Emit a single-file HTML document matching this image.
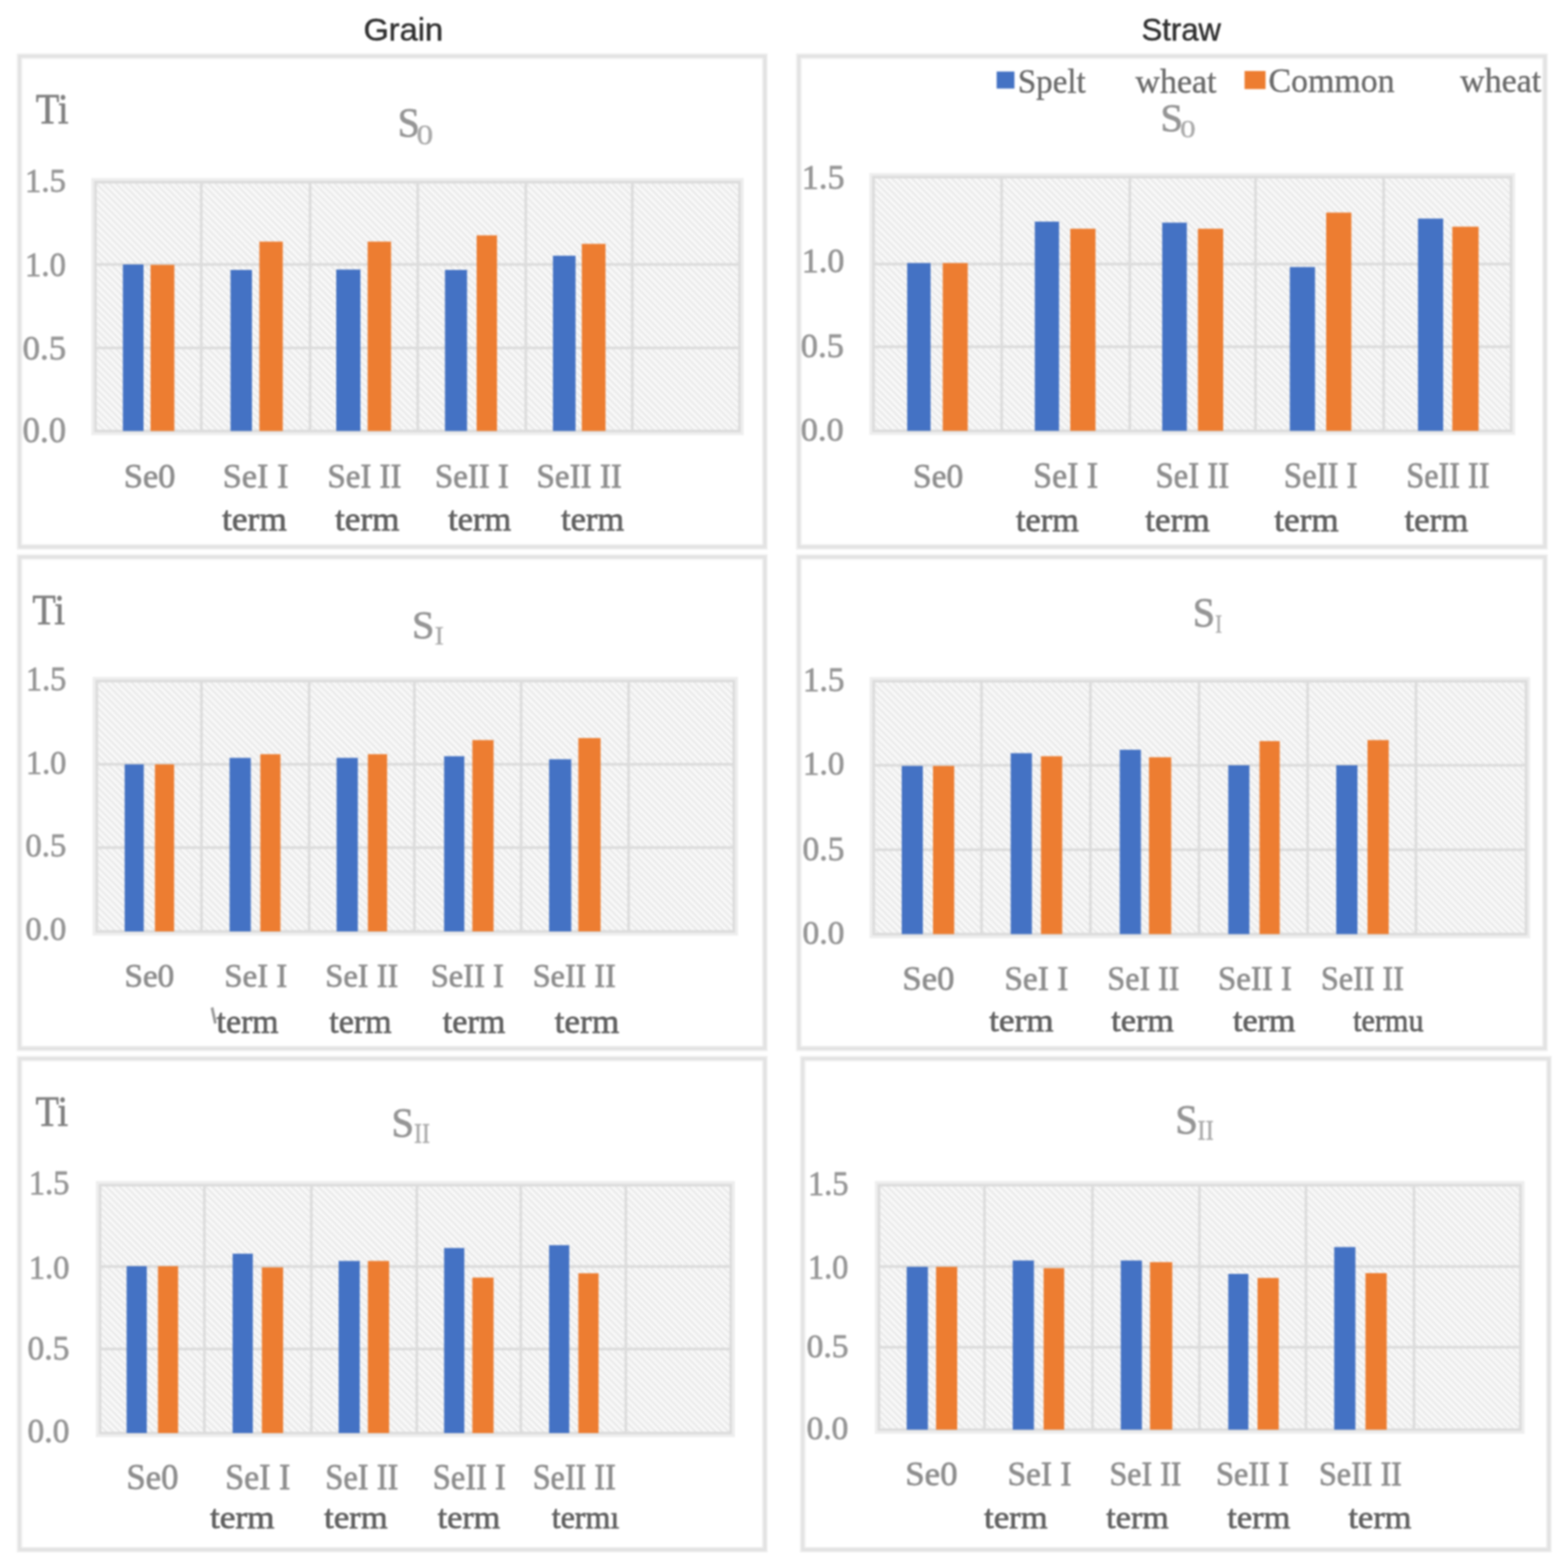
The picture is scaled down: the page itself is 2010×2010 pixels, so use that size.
<!DOCTYPE html>
<html><head><meta charset="utf-8"><title>Ti content - Grain and Straw</title>
<style>
html,body{margin:0;padding:0;background:#fff;}
body>svg{display:block;filter:blur(1px);}
text{stroke-linejoin:round;paint-order:stroke fill;}
</style></head><body>
<svg width="2010" height="2010" viewBox="0 0 2010 2010">
<defs>
<pattern id="hatch" patternUnits="userSpaceOnUse" width="6" height="6" patternTransform="rotate(45)"><rect width="6" height="6" fill="#f9f9f9"/><rect width="6" height="2.4" fill="#e8e8e8"/></pattern>
</defs>
<rect width="2010" height="2010" fill="#fff"/>
<rect x="25.0" y="72.0" width="955.5" height="629.0" fill="none" stroke="#eeeeee" stroke-width="7"/>
<rect x="25.0" y="72.0" width="955.5" height="629.0" fill="none" stroke="#e2e2e2" stroke-width="3.5"/>
<rect x="1024.0" y="72.0" width="956.5" height="629.0" fill="none" stroke="#eeeeee" stroke-width="7"/>
<rect x="1024.0" y="72.0" width="956.5" height="629.0" fill="none" stroke="#e2e2e2" stroke-width="3.5"/>
<rect x="25.0" y="714.0" width="955.5" height="630.0" fill="none" stroke="#eeeeee" stroke-width="7"/>
<rect x="25.0" y="714.0" width="955.5" height="630.0" fill="none" stroke="#e2e2e2" stroke-width="3.5"/>
<rect x="1024.0" y="714.0" width="956.5" height="630.0" fill="none" stroke="#eeeeee" stroke-width="7"/>
<rect x="1024.0" y="714.0" width="956.5" height="630.0" fill="none" stroke="#e2e2e2" stroke-width="3.5"/>
<rect x="25.0" y="1357.0" width="955.5" height="629.5" fill="none" stroke="#eeeeee" stroke-width="7"/>
<rect x="25.0" y="1357.0" width="955.5" height="629.5" fill="none" stroke="#e2e2e2" stroke-width="3.5"/>
<rect x="1029.0" y="1357.0" width="956.5" height="629.5" fill="none" stroke="#eeeeee" stroke-width="7"/>
<rect x="1029.0" y="1357.0" width="956.5" height="629.5" fill="none" stroke="#e2e2e2" stroke-width="3.5"/>
<g>
<rect x="122.3" y="233.5" width="825.7" height="319.0" fill="url(#hatch)"/>
<line x1="258.0" y1="233.5" x2="258.0" y2="552.5" stroke="#dcdcdc" stroke-width="3.5"/>
<line x1="397.5" y1="233.5" x2="397.5" y2="552.5" stroke="#dcdcdc" stroke-width="3.5"/>
<line x1="535.5" y1="233.5" x2="535.5" y2="552.5" stroke="#dcdcdc" stroke-width="3.5"/>
<line x1="674.0" y1="233.5" x2="674.0" y2="552.5" stroke="#dcdcdc" stroke-width="3.5"/>
<line x1="810.5" y1="233.5" x2="810.5" y2="552.5" stroke="#dcdcdc" stroke-width="3.5"/>
<line x1="122.3" y1="339.0" x2="948.0" y2="339.0" stroke="#dcdcdc" stroke-width="3.5"/>
<line x1="122.3" y1="446.0" x2="948.0" y2="446.0" stroke="#dcdcdc" stroke-width="3.5"/>
<rect x="118.8" y="230.0" width="832.7" height="326.0" fill="none" stroke="#eeeeee" stroke-width="3.6"/>
<rect x="122.3" y="233.5" width="825.7" height="319.0" fill="none" stroke="#dcdcdc" stroke-width="3.5"/>
<rect x="157.5" y="339.0" width="26.5" height="213.5" fill="#4472c4"/>
<rect x="193.0" y="339.5" width="30.5" height="213.0" fill="#ed7d31"/>
<rect x="295.5" y="346.0" width="27.5" height="206.5" fill="#4472c4"/>
<rect x="332.5" y="309.7" width="30.0" height="242.8" fill="#ed7d31"/>
<rect x="431.0" y="345.5" width="31.0" height="207.0" fill="#4472c4"/>
<rect x="471.3" y="309.7" width="30.0" height="242.8" fill="#ed7d31"/>
<rect x="570.4" y="346.0" width="28.3" height="206.5" fill="#4472c4"/>
<rect x="611.0" y="301.7" width="26.1" height="250.8" fill="#ed7d31"/>
<rect x="708.8" y="327.8" width="29.0" height="224.7" fill="#4472c4"/>
<rect x="745.8" y="312.6" width="30.4" height="239.9" fill="#ed7d31"/>
<text x="32.0" y="245.6" font-size="42.2" textLength="52.7" lengthAdjust="spacingAndGlyphs" fill="#969696" stroke="#969696" style="font-family:'Liberation Serif', serif;stroke-width:0.90px">1.5</text>
<text x="32.0" y="353.7" font-size="44.7" textLength="52.6" lengthAdjust="spacingAndGlyphs" fill="#969696" stroke="#969696" style="font-family:'Liberation Serif', serif;stroke-width:0.90px">1.0</text>
<text x="29.1" y="460.9" font-size="45.0" textLength="55.7" lengthAdjust="spacingAndGlyphs" fill="#969696" stroke="#969696" style="font-family:'Liberation Serif', serif;stroke-width:0.90px">0.5</text>
<text x="29.1" y="567.1" font-size="46.3" textLength="55.5" lengthAdjust="spacingAndGlyphs" fill="#969696" stroke="#969696" style="font-family:'Liberation Serif', serif;stroke-width:0.90px">0.0</text>
<text x="158.7" y="624.6" font-size="43.7" textLength="66.2" lengthAdjust="spacingAndGlyphs" fill="#8d8d8d" stroke="#8d8d8d" style="font-family:'Liberation Serif', serif;stroke-width:0.90px">Se0</text>
<text x="285.6" y="624.6" font-size="43.9" textLength="84.3" lengthAdjust="spacingAndGlyphs" fill="#8d8d8d" stroke="#8d8d8d" style="font-family:'Liberation Serif', serif;stroke-width:0.90px">SeI I</text>
<text x="419.7" y="624.6" font-size="43.9" textLength="95.0" lengthAdjust="spacingAndGlyphs" fill="#8d8d8d" stroke="#8d8d8d" style="font-family:'Liberation Serif', serif;stroke-width:0.90px">SeI II</text>
<text x="557.4" y="624.6" font-size="43.9" textLength="95.0" lengthAdjust="spacingAndGlyphs" fill="#8d8d8d" stroke="#8d8d8d" style="font-family:'Liberation Serif', serif;stroke-width:0.90px">SeII I</text>
<text x="687.8" y="624.6" font-size="43.9" textLength="109.4" lengthAdjust="spacingAndGlyphs" fill="#8d8d8d" stroke="#8d8d8d" style="font-family:'Liberation Serif', serif;stroke-width:0.90px">SeII II</text>
<text x="284.7" y="680.2" font-size="44.2" textLength="82.9" lengthAdjust="spacingAndGlyphs" fill="#606060" stroke="#606060" style="font-family:'Liberation Serif', serif;stroke-width:0.90px">term</text>
<text x="429.4" y="680.2" font-size="44.2" textLength="82.6" lengthAdjust="spacingAndGlyphs" fill="#606060" stroke="#606060" style="font-family:'Liberation Serif', serif;stroke-width:0.90px">term</text>
<text x="574.4" y="680.2" font-size="44.2" textLength="80.8" lengthAdjust="spacingAndGlyphs" fill="#606060" stroke="#606060" style="font-family:'Liberation Serif', serif;stroke-width:0.90px">term</text>
<text x="719.3" y="680.2" font-size="44.2" textLength="80.8" lengthAdjust="spacingAndGlyphs" fill="#606060" stroke="#606060" style="font-family:'Liberation Serif', serif;stroke-width:0.90px">term</text>
<text x="46.1" y="157.5" font-size="55.5" textLength="41.8" lengthAdjust="spacingAndGlyphs" fill="#808080" stroke="#808080" style="font-family:'Liberation Serif', serif;stroke-width:0.90px">Ti</text>
<text x="509.8" y="175.4" font-size="52.6" textLength="28.4" lengthAdjust="spacingAndGlyphs" fill="#959595" stroke="#959595" style="font-family:'Liberation Serif', serif;stroke-width:0.90px">S</text>
<text x="534.0" y="185.4" font-size="35.9" textLength="21.2" lengthAdjust="spacingAndGlyphs" fill="#ababab" stroke="#ababab" style="font-family:'Liberation Serif', serif;stroke-width:0.50px">0</text>
</g>
<g>
<rect x="1119.8" y="227.0" width="817.2" height="325.3" fill="url(#hatch)"/>
<line x1="1284.0" y1="227.0" x2="1284.0" y2="552.3" stroke="#dcdcdc" stroke-width="3.5"/>
<line x1="1448.3" y1="227.0" x2="1448.3" y2="552.3" stroke="#dcdcdc" stroke-width="3.5"/>
<line x1="1609.4" y1="227.0" x2="1609.4" y2="552.3" stroke="#dcdcdc" stroke-width="3.5"/>
<line x1="1773.7" y1="227.0" x2="1773.7" y2="552.3" stroke="#dcdcdc" stroke-width="3.5"/>
<line x1="1119.8" y1="338.5" x2="1937.0" y2="338.5" stroke="#dcdcdc" stroke-width="3.5"/>
<line x1="1119.8" y1="444.5" x2="1937.0" y2="444.5" stroke="#dcdcdc" stroke-width="3.5"/>
<rect x="1116.3" y="223.5" width="824.2" height="332.3" fill="none" stroke="#eeeeee" stroke-width="3.6"/>
<rect x="1119.8" y="227.0" width="817.2" height="325.3" fill="none" stroke="#dcdcdc" stroke-width="3.5"/>
<rect x="1162.9" y="337.2" width="30.0" height="215.1" fill="#4472c4"/>
<rect x="1208.5" y="337.2" width="32.0" height="215.1" fill="#ed7d31"/>
<rect x="1326.5" y="284.1" width="31.1" height="268.2" fill="#4472c4"/>
<rect x="1372.0" y="293.2" width="32.3" height="259.1" fill="#ed7d31"/>
<rect x="1489.8" y="285.4" width="31.6" height="266.9" fill="#4472c4"/>
<rect x="1535.6" y="293.2" width="32.4" height="259.1" fill="#ed7d31"/>
<rect x="1653.4" y="342.3" width="32.3" height="210.0" fill="#4472c4"/>
<rect x="1700.0" y="272.5" width="32.3" height="279.8" fill="#ed7d31"/>
<rect x="1817.7" y="280.2" width="32.3" height="272.1" fill="#4472c4"/>
<rect x="1861.7" y="290.6" width="33.7" height="261.7" fill="#ed7d31"/>
<text x="1027.8" y="242.0" font-size="44.0" textLength="54.8" lengthAdjust="spacingAndGlyphs" fill="#969696" stroke="#969696" style="font-family:'Liberation Serif', serif;stroke-width:0.90px">1.5</text>
<text x="1027.8" y="349.4" font-size="43.8" textLength="54.7" lengthAdjust="spacingAndGlyphs" fill="#969696" stroke="#969696" style="font-family:'Liberation Serif', serif;stroke-width:0.90px">1.0</text>
<text x="1026.6" y="458.3" font-size="44.1" textLength="55.1" lengthAdjust="spacingAndGlyphs" fill="#969696" stroke="#969696" style="font-family:'Liberation Serif', serif;stroke-width:0.90px">0.5</text>
<text x="1026.6" y="565.0" font-size="42.6" textLength="55.0" lengthAdjust="spacingAndGlyphs" fill="#969696" stroke="#969696" style="font-family:'Liberation Serif', serif;stroke-width:0.90px">0.0</text>
<text x="1170.3" y="625.3" font-size="45.3" textLength="64.6" lengthAdjust="spacingAndGlyphs" fill="#8d8d8d" stroke="#8d8d8d" style="font-family:'Liberation Serif', serif;stroke-width:0.90px">Se0</text>
<text x="1324.6" y="625.3" font-size="45.5" textLength="83.1" lengthAdjust="spacingAndGlyphs" fill="#8d8d8d" stroke="#8d8d8d" style="font-family:'Liberation Serif', serif;stroke-width:0.90px">SeI I</text>
<text x="1481.2" y="625.3" font-size="45.5" textLength="94.5" lengthAdjust="spacingAndGlyphs" fill="#8d8d8d" stroke="#8d8d8d" style="font-family:'Liberation Serif', serif;stroke-width:0.90px">SeI II</text>
<text x="1645.8" y="625.3" font-size="45.5" textLength="94.5" lengthAdjust="spacingAndGlyphs" fill="#8d8d8d" stroke="#8d8d8d" style="font-family:'Liberation Serif', serif;stroke-width:0.90px">SeII I</text>
<text x="1802.7" y="625.3" font-size="45.5" textLength="106.7" lengthAdjust="spacingAndGlyphs" fill="#8d8d8d" stroke="#8d8d8d" style="font-family:'Liberation Serif', serif;stroke-width:0.90px">SeII II</text>
<text x="1302.2" y="680.6" font-size="44.3" textLength="80.8" lengthAdjust="spacingAndGlyphs" fill="#606060" stroke="#606060" style="font-family:'Liberation Serif', serif;stroke-width:0.90px">term</text>
<text x="1468.0" y="680.6" font-size="44.3" textLength="82.8" lengthAdjust="spacingAndGlyphs" fill="#606060" stroke="#606060" style="font-family:'Liberation Serif', serif;stroke-width:0.90px">term</text>
<text x="1633.5" y="680.6" font-size="44.3" textLength="82.5" lengthAdjust="spacingAndGlyphs" fill="#606060" stroke="#606060" style="font-family:'Liberation Serif', serif;stroke-width:0.90px">term</text>
<text x="1800.4" y="680.6" font-size="44.3" textLength="81.8" lengthAdjust="spacingAndGlyphs" fill="#606060" stroke="#606060" style="font-family:'Liberation Serif', serif;stroke-width:0.90px">term</text>
<text x="1487.6" y="167.5" font-size="51.0" textLength="29.0" lengthAdjust="spacingAndGlyphs" fill="#959595" stroke="#959595" style="font-family:'Liberation Serif', serif;stroke-width:0.90px">S</text>
<text x="1512.7" y="175.6" font-size="31.3" textLength="20.0" lengthAdjust="spacingAndGlyphs" fill="#ababab" stroke="#ababab" style="font-family:'Liberation Serif', serif;stroke-width:0.50px">0</text>
</g>
<g>
<rect x="124.0" y="873.0" width="816.7" height="321.0" fill="url(#hatch)"/>
<line x1="258.3" y1="873.0" x2="258.3" y2="1194.0" stroke="#dcdcdc" stroke-width="3.5"/>
<line x1="396.3" y1="873.0" x2="396.3" y2="1194.0" stroke="#dcdcdc" stroke-width="3.5"/>
<line x1="531.2" y1="873.0" x2="531.2" y2="1194.0" stroke="#dcdcdc" stroke-width="3.5"/>
<line x1="668.0" y1="873.0" x2="668.0" y2="1194.0" stroke="#dcdcdc" stroke-width="3.5"/>
<line x1="805.8" y1="873.0" x2="805.8" y2="1194.0" stroke="#dcdcdc" stroke-width="3.5"/>
<line x1="124.0" y1="979.8" x2="940.7" y2="979.8" stroke="#dcdcdc" stroke-width="3.5"/>
<line x1="124.0" y1="1086.6" x2="940.7" y2="1086.6" stroke="#dcdcdc" stroke-width="3.5"/>
<rect x="120.5" y="869.5" width="823.7" height="328.0" fill="none" stroke="#eeeeee" stroke-width="3.6"/>
<rect x="124.0" y="873.0" width="816.7" height="321.0" fill="none" stroke="#dcdcdc" stroke-width="3.5"/>
<rect x="159.8" y="979.8" width="24.5" height="214.2" fill="#4472c4"/>
<rect x="198.6" y="979.8" width="24.6" height="214.2" fill="#ed7d31"/>
<rect x="294.3" y="971.5" width="27.2" height="222.5" fill="#4472c4"/>
<rect x="333.7" y="966.8" width="25.8" height="227.2" fill="#ed7d31"/>
<rect x="431.5" y="971.5" width="27.2" height="222.5" fill="#4472c4"/>
<rect x="471.6" y="966.8" width="24.6" height="227.2" fill="#ed7d31"/>
<rect x="569.3" y="969.4" width="25.9" height="224.6" fill="#4472c4"/>
<rect x="605.5" y="948.7" width="27.2" height="245.3" fill="#ed7d31"/>
<rect x="703.9" y="973.3" width="28.4" height="220.7" fill="#4472c4"/>
<rect x="741.4" y="946.1" width="28.5" height="247.9" fill="#ed7d31"/>
<text x="33.2" y="884.6" font-size="44.1" textLength="51.9" lengthAdjust="spacingAndGlyphs" fill="#969696" stroke="#969696" style="font-family:'Liberation Serif', serif;stroke-width:0.90px">1.5</text>
<text x="33.2" y="992.1" font-size="41.9" textLength="51.8" lengthAdjust="spacingAndGlyphs" fill="#969696" stroke="#969696" style="font-family:'Liberation Serif', serif;stroke-width:0.90px">1.0</text>
<text x="32.6" y="1097.6" font-size="41.8" textLength="52.5" lengthAdjust="spacingAndGlyphs" fill="#969696" stroke="#969696" style="font-family:'Liberation Serif', serif;stroke-width:0.90px">0.5</text>
<text x="32.6" y="1205.0" font-size="41.8" textLength="52.3" lengthAdjust="spacingAndGlyphs" fill="#969696" stroke="#969696" style="font-family:'Liberation Serif', serif;stroke-width:0.90px">0.0</text>
<text x="159.4" y="1264.8" font-size="42.2" textLength="64.1" lengthAdjust="spacingAndGlyphs" fill="#8d8d8d" stroke="#8d8d8d" style="font-family:'Liberation Serif', serif;stroke-width:0.90px">Se0</text>
<text x="287.6" y="1264.8" font-size="42.4" textLength="80.8" lengthAdjust="spacingAndGlyphs" fill="#8d8d8d" stroke="#8d8d8d" style="font-family:'Liberation Serif', serif;stroke-width:0.90px">SeI I</text>
<text x="417.0" y="1264.8" font-size="42.4" textLength="93.6" lengthAdjust="spacingAndGlyphs" fill="#8d8d8d" stroke="#8d8d8d" style="font-family:'Liberation Serif', serif;stroke-width:0.90px">SeI II</text>
<text x="552.2" y="1264.8" font-size="42.4" textLength="93.6" lengthAdjust="spacingAndGlyphs" fill="#8d8d8d" stroke="#8d8d8d" style="font-family:'Liberation Serif', serif;stroke-width:0.90px">SeII I</text>
<text x="682.9" y="1264.8" font-size="42.4" textLength="106.5" lengthAdjust="spacingAndGlyphs" fill="#8d8d8d" stroke="#8d8d8d" style="font-family:'Liberation Serif', serif;stroke-width:0.90px">SeII II</text>
<text x="277.6" y="1324.2" font-size="45.0" textLength="79.5" lengthAdjust="spacingAndGlyphs" fill="#606060" stroke="#606060" style="font-family:'Liberation Serif', serif;stroke-width:0.90px">term</text>
<text x="422.0" y="1324.2" font-size="45.0" textLength="80.1" lengthAdjust="spacingAndGlyphs" fill="#606060" stroke="#606060" style="font-family:'Liberation Serif', serif;stroke-width:0.90px">term</text>
<text x="567.6" y="1324.2" font-size="45.0" textLength="80.1" lengthAdjust="spacingAndGlyphs" fill="#606060" stroke="#606060" style="font-family:'Liberation Serif', serif;stroke-width:0.90px">term</text>
<text x="711.1" y="1324.2" font-size="45.0" textLength="82.6" lengthAdjust="spacingAndGlyphs" fill="#606060" stroke="#606060" style="font-family:'Liberation Serif', serif;stroke-width:0.90px">term</text>
<text x="41.5" y="799.7" font-size="54.6" textLength="41.9" lengthAdjust="spacingAndGlyphs" fill="#808080" stroke="#808080" style="font-family:'Liberation Serif', serif;stroke-width:0.90px">Ti</text>
<text x="528.3" y="817.9" font-size="50.0" textLength="28.5" lengthAdjust="spacingAndGlyphs" fill="#959595" stroke="#959595" style="font-family:'Liberation Serif', serif;stroke-width:0.90px">S</text>
<text x="557.0" y="826.3" font-size="34.2" textLength="12.1" lengthAdjust="spacingAndGlyphs" fill="#ababab" stroke="#ababab" style="font-family:'Liberation Serif', serif;stroke-width:0.50px">I</text>
</g>
<g>
<rect x="1120.0" y="873.2" width="836.2" height="324.2" fill="url(#hatch)"/>
<line x1="1258.2" y1="873.2" x2="1258.2" y2="1197.4" stroke="#dcdcdc" stroke-width="3.5"/>
<line x1="1397.8" y1="873.2" x2="1397.8" y2="1197.4" stroke="#dcdcdc" stroke-width="3.5"/>
<line x1="1537.0" y1="873.2" x2="1537.0" y2="1197.4" stroke="#dcdcdc" stroke-width="3.5"/>
<line x1="1676.2" y1="873.2" x2="1676.2" y2="1197.4" stroke="#dcdcdc" stroke-width="3.5"/>
<line x1="1815.1" y1="873.2" x2="1815.1" y2="1197.4" stroke="#dcdcdc" stroke-width="3.5"/>
<line x1="1120.0" y1="981.0" x2="1956.2" y2="981.0" stroke="#dcdcdc" stroke-width="3.5"/>
<line x1="1120.0" y1="1089.2" x2="1956.2" y2="1089.2" stroke="#dcdcdc" stroke-width="3.5"/>
<rect x="1116.5" y="869.7" width="843.2" height="331.2" fill="none" stroke="#eeeeee" stroke-width="3.6"/>
<rect x="1120.0" y="873.2" width="836.2" height="324.2" fill="none" stroke="#dcdcdc" stroke-width="3.5"/>
<rect x="1155.9" y="981.8" width="27.1" height="215.6" fill="#4472c4"/>
<rect x="1196.0" y="981.8" width="27.2" height="215.6" fill="#ed7d31"/>
<rect x="1295.6" y="965.5" width="27.2" height="231.9" fill="#4472c4"/>
<rect x="1334.4" y="969.4" width="27.2" height="228.0" fill="#ed7d31"/>
<rect x="1435.4" y="961.1" width="27.1" height="236.3" fill="#4472c4"/>
<rect x="1472.9" y="970.7" width="28.5" height="226.7" fill="#ed7d31"/>
<rect x="1574.5" y="981.0" width="27.1" height="216.4" fill="#4472c4"/>
<rect x="1614.6" y="950.0" width="25.9" height="247.4" fill="#ed7d31"/>
<rect x="1712.9" y="981.0" width="27.2" height="216.4" fill="#4472c4"/>
<rect x="1753.0" y="948.7" width="27.2" height="248.7" fill="#ed7d31"/>
<text x="1029.3" y="885.9" font-size="44.1" textLength="53.2" lengthAdjust="spacingAndGlyphs" fill="#969696" stroke="#969696" style="font-family:'Liberation Serif', serif;stroke-width:0.90px">1.5</text>
<text x="1029.3" y="993.4" font-size="41.9" textLength="53.1" lengthAdjust="spacingAndGlyphs" fill="#969696" stroke="#969696" style="font-family:'Liberation Serif', serif;stroke-width:0.90px">1.0</text>
<text x="1028.8" y="1102.7" font-size="43.8" textLength="53.7" lengthAdjust="spacingAndGlyphs" fill="#969696" stroke="#969696" style="font-family:'Liberation Serif', serif;stroke-width:0.90px">0.5</text>
<text x="1028.8" y="1210.2" font-size="42.6" textLength="53.6" lengthAdjust="spacingAndGlyphs" fill="#969696" stroke="#969696" style="font-family:'Liberation Serif', serif;stroke-width:0.90px">0.0</text>
<text x="1156.8" y="1268.6" font-size="44.7" textLength="66.8" lengthAdjust="spacingAndGlyphs" fill="#8d8d8d" stroke="#8d8d8d" style="font-family:'Liberation Serif', serif;stroke-width:0.90px">Se0</text>
<text x="1287.5" y="1268.6" font-size="44.9" textLength="82.1" lengthAdjust="spacingAndGlyphs" fill="#8d8d8d" stroke="#8d8d8d" style="font-family:'Liberation Serif', serif;stroke-width:0.90px">SeI I</text>
<text x="1419.6" y="1268.6" font-size="44.9" textLength="92.3" lengthAdjust="spacingAndGlyphs" fill="#8d8d8d" stroke="#8d8d8d" style="font-family:'Liberation Serif', serif;stroke-width:0.90px">SeI II</text>
<text x="1561.2" y="1268.6" font-size="44.9" textLength="95.0" lengthAdjust="spacingAndGlyphs" fill="#8d8d8d" stroke="#8d8d8d" style="font-family:'Liberation Serif', serif;stroke-width:0.90px">SeII I</text>
<text x="1693.3" y="1268.6" font-size="44.9" textLength="106.4" lengthAdjust="spacingAndGlyphs" fill="#8d8d8d" stroke="#8d8d8d" style="font-family:'Liberation Serif', serif;stroke-width:0.90px">SeII II</text>
<text x="1267.9" y="1321.7" font-size="42.8" textLength="82.7" lengthAdjust="spacingAndGlyphs" fill="#606060" stroke="#606060" style="font-family:'Liberation Serif', serif;stroke-width:0.90px">term</text>
<text x="1424.6" y="1321.7" font-size="42.8" textLength="80.1" lengthAdjust="spacingAndGlyphs" fill="#606060" stroke="#606060" style="font-family:'Liberation Serif', serif;stroke-width:0.90px">term</text>
<text x="1580.5" y="1321.7" font-size="42.8" textLength="80.1" lengthAdjust="spacingAndGlyphs" fill="#606060" stroke="#606060" style="font-family:'Liberation Serif', serif;stroke-width:0.90px">term</text>
<text x="1734.5" y="1321.7" font-size="42.8" textLength="90.4" lengthAdjust="spacingAndGlyphs" fill="#606060" stroke="#606060" style="font-family:'Liberation Serif', serif;stroke-width:0.90px">termu</text>
<text x="1529.1" y="802.6" font-size="52.3" textLength="28.5" lengthAdjust="spacingAndGlyphs" fill="#959595" stroke="#959595" style="font-family:'Liberation Serif', serif;stroke-width:0.90px">S</text>
<text x="1557.8" y="810.5" font-size="34.0" textLength="8.9" lengthAdjust="spacingAndGlyphs" fill="#ababab" stroke="#ababab" style="font-family:'Liberation Serif', serif;stroke-width:0.50px">I</text>
</g>
<g>
<rect x="128.2" y="1519.2" width="808.6" height="317.8" fill="url(#hatch)"/>
<line x1="262.0" y1="1519.2" x2="262.0" y2="1837.0" stroke="#dcdcdc" stroke-width="3.5"/>
<line x1="399.1" y1="1519.2" x2="399.1" y2="1837.0" stroke="#dcdcdc" stroke-width="3.5"/>
<line x1="534.3" y1="1519.2" x2="534.3" y2="1837.0" stroke="#dcdcdc" stroke-width="3.5"/>
<line x1="667.6" y1="1519.2" x2="667.6" y2="1837.0" stroke="#dcdcdc" stroke-width="3.5"/>
<line x1="802.2" y1="1519.2" x2="802.2" y2="1837.0" stroke="#dcdcdc" stroke-width="3.5"/>
<line x1="128.2" y1="1623.6" x2="936.8" y2="1623.6" stroke="#dcdcdc" stroke-width="3.5"/>
<line x1="128.2" y1="1729.2" x2="936.8" y2="1729.2" stroke="#dcdcdc" stroke-width="3.5"/>
<rect x="124.7" y="1515.7" width="815.6" height="324.8" fill="none" stroke="#eeeeee" stroke-width="3.6"/>
<rect x="128.2" y="1519.2" width="808.6" height="317.8" fill="none" stroke="#dcdcdc" stroke-width="3.5"/>
<rect x="162.3" y="1623.1" width="25.9" height="213.9" fill="#4472c4"/>
<rect x="202.5" y="1623.1" width="25.8" height="213.9" fill="#ed7d31"/>
<rect x="298.2" y="1607.1" width="25.9" height="229.9" fill="#4472c4"/>
<rect x="335.7" y="1624.6" width="27.2" height="212.4" fill="#ed7d31"/>
<rect x="434.1" y="1616.4" width="27.1" height="220.6" fill="#4472c4"/>
<rect x="471.6" y="1616.4" width="27.2" height="220.6" fill="#ed7d31"/>
<rect x="569.3" y="1599.8" width="25.9" height="237.2" fill="#4472c4"/>
<rect x="605.5" y="1637.7" width="27.2" height="199.3" fill="#ed7d31"/>
<rect x="703.9" y="1596.2" width="25.8" height="240.8" fill="#4472c4"/>
<rect x="741.4" y="1632.2" width="25.9" height="204.8" fill="#ed7d31"/>
<text x="37.1" y="1531.1" font-size="44.1" textLength="51.9" lengthAdjust="spacingAndGlyphs" fill="#969696" stroke="#969696" style="font-family:'Liberation Serif', serif;stroke-width:0.90px">1.5</text>
<text x="37.1" y="1638.6" font-size="41.9" textLength="51.8" lengthAdjust="spacingAndGlyphs" fill="#969696" stroke="#969696" style="font-family:'Liberation Serif', serif;stroke-width:0.90px">1.0</text>
<text x="35.2" y="1742.7" font-size="43.8" textLength="53.8" lengthAdjust="spacingAndGlyphs" fill="#969696" stroke="#969696" style="font-family:'Liberation Serif', serif;stroke-width:0.90px">0.5</text>
<text x="35.2" y="1848.8" font-size="43.7" textLength="53.7" lengthAdjust="spacingAndGlyphs" fill="#969696" stroke="#969696" style="font-family:'Liberation Serif', serif;stroke-width:0.90px">0.0</text>
<text x="161.9" y="1908.5" font-size="45.9" textLength="66.8" lengthAdjust="spacingAndGlyphs" fill="#8d8d8d" stroke="#8d8d8d" style="font-family:'Liberation Serif', serif;stroke-width:0.90px">Se0</text>
<text x="288.8" y="1908.5" font-size="46.1" textLength="83.5" lengthAdjust="spacingAndGlyphs" fill="#8d8d8d" stroke="#8d8d8d" style="font-family:'Liberation Serif', serif;stroke-width:0.90px">SeI I</text>
<text x="417.0" y="1908.5" font-size="46.1" textLength="93.6" lengthAdjust="spacingAndGlyphs" fill="#8d8d8d" stroke="#8d8d8d" style="font-family:'Liberation Serif', serif;stroke-width:0.90px">SeI II</text>
<text x="554.8" y="1908.5" font-size="46.1" textLength="93.6" lengthAdjust="spacingAndGlyphs" fill="#8d8d8d" stroke="#8d8d8d" style="font-family:'Liberation Serif', serif;stroke-width:0.90px">SeII I</text>
<text x="682.9" y="1908.5" font-size="46.1" textLength="106.5" lengthAdjust="spacingAndGlyphs" fill="#8d8d8d" stroke="#8d8d8d" style="font-family:'Liberation Serif', serif;stroke-width:0.90px">SeII II</text>
<text x="269.2" y="1959.1" font-size="42.8" textLength="82.7" lengthAdjust="spacingAndGlyphs" fill="#606060" stroke="#606060" style="font-family:'Liberation Serif', serif;stroke-width:0.90px">term</text>
<text x="415.6" y="1959.1" font-size="42.8" textLength="81.3" lengthAdjust="spacingAndGlyphs" fill="#606060" stroke="#606060" style="font-family:'Liberation Serif', serif;stroke-width:0.90px">term</text>
<text x="561.1" y="1959.1" font-size="42.8" textLength="80.1" lengthAdjust="spacingAndGlyphs" fill="#606060" stroke="#606060" style="font-family:'Liberation Serif', serif;stroke-width:0.90px">term</text>
<text x="707.3" y="1959.1" font-size="42.8" textLength="86.5" lengthAdjust="spacingAndGlyphs" fill="#606060" stroke="#606060" style="font-family:'Liberation Serif', serif;stroke-width:0.90px">termı</text>
<text x="45.7" y="1442.6" font-size="55.5" textLength="41.7" lengthAdjust="spacingAndGlyphs" fill="#808080" stroke="#808080" style="font-family:'Liberation Serif', serif;stroke-width:0.90px">Ti</text>
<text x="501.8" y="1456.6" font-size="52.3" textLength="29.0" lengthAdjust="spacingAndGlyphs" fill="#959595" stroke="#959595" style="font-family:'Liberation Serif', serif;stroke-width:0.90px">S</text>
<text x="530.7" y="1465.0" font-size="36.0" textLength="20.4" lengthAdjust="spacingAndGlyphs" fill="#ababab" stroke="#ababab" style="font-family:'Liberation Serif', serif;stroke-width:0.50px">II</text>
</g>
<g>
<rect x="1126.8" y="1519.2" width="822.2" height="313.5" fill="url(#hatch)"/>
<line x1="1262.0" y1="1519.2" x2="1262.0" y2="1832.7" stroke="#dcdcdc" stroke-width="3.5"/>
<line x1="1400.4" y1="1519.2" x2="1400.4" y2="1832.7" stroke="#dcdcdc" stroke-width="3.5"/>
<line x1="1537.5" y1="1519.2" x2="1537.5" y2="1832.7" stroke="#dcdcdc" stroke-width="3.5"/>
<line x1="1674.1" y1="1519.2" x2="1674.1" y2="1832.7" stroke="#dcdcdc" stroke-width="3.5"/>
<line x1="1812.6" y1="1519.2" x2="1812.6" y2="1832.7" stroke="#dcdcdc" stroke-width="3.5"/>
<line x1="1126.8" y1="1623.6" x2="1949.0" y2="1623.6" stroke="#dcdcdc" stroke-width="3.5"/>
<line x1="1126.8" y1="1727.1" x2="1949.0" y2="1727.1" stroke="#dcdcdc" stroke-width="3.5"/>
<rect x="1123.3" y="1515.7" width="829.2" height="320.5" fill="none" stroke="#eeeeee" stroke-width="3.6"/>
<rect x="1126.8" y="1519.2" width="822.2" height="313.5" fill="none" stroke="#dcdcdc" stroke-width="3.5"/>
<rect x="1162.3" y="1623.9" width="27.2" height="208.8" fill="#4472c4"/>
<rect x="1199.9" y="1623.9" width="27.1" height="208.8" fill="#ed7d31"/>
<rect x="1298.2" y="1615.8" width="27.2" height="216.9" fill="#4472c4"/>
<rect x="1337.8" y="1625.6" width="26.4" height="207.1" fill="#ed7d31"/>
<rect x="1436.7" y="1615.8" width="27.1" height="216.9" fill="#4472c4"/>
<rect x="1474.2" y="1617.9" width="28.5" height="214.8" fill="#ed7d31"/>
<rect x="1574.5" y="1633.0" width="25.8" height="199.7" fill="#4472c4"/>
<rect x="1612.0" y="1638.2" width="27.2" height="194.5" fill="#ed7d31"/>
<rect x="1710.3" y="1598.6" width="27.2" height="234.1" fill="#4472c4"/>
<rect x="1750.4" y="1632.0" width="27.2" height="200.7" fill="#ed7d31"/>
<text x="1035.8" y="1532.3" font-size="44.0" textLength="51.9" lengthAdjust="spacingAndGlyphs" fill="#969696" stroke="#969696" style="font-family:'Liberation Serif', serif;stroke-width:0.90px">1.5</text>
<text x="1035.8" y="1638.5" font-size="43.8" textLength="51.8" lengthAdjust="spacingAndGlyphs" fill="#969696" stroke="#969696" style="font-family:'Liberation Serif', serif;stroke-width:0.90px">1.0</text>
<text x="1033.9" y="1740.2" font-size="41.9" textLength="53.8" lengthAdjust="spacingAndGlyphs" fill="#969696" stroke="#969696" style="font-family:'Liberation Serif', serif;stroke-width:0.90px">0.5</text>
<text x="1033.9" y="1845.0" font-size="41.8" textLength="53.7" lengthAdjust="spacingAndGlyphs" fill="#969696" stroke="#969696" style="font-family:'Liberation Serif', serif;stroke-width:0.90px">0.0</text>
<text x="1160.6" y="1903.5" font-size="44.1" textLength="66.8" lengthAdjust="spacingAndGlyphs" fill="#8d8d8d" stroke="#8d8d8d" style="font-family:'Liberation Serif', serif;stroke-width:0.90px">Se0</text>
<text x="1291.4" y="1903.5" font-size="44.3" textLength="82.1" lengthAdjust="spacingAndGlyphs" fill="#8d8d8d" stroke="#8d8d8d" style="font-family:'Liberation Serif', serif;stroke-width:0.90px">SeI I</text>
<text x="1422.2" y="1903.5" font-size="44.3" textLength="92.3" lengthAdjust="spacingAndGlyphs" fill="#8d8d8d" stroke="#8d8d8d" style="font-family:'Liberation Serif', serif;stroke-width:0.90px">SeI II</text>
<text x="1558.7" y="1903.5" font-size="44.3" textLength="93.6" lengthAdjust="spacingAndGlyphs" fill="#8d8d8d" stroke="#8d8d8d" style="font-family:'Liberation Serif', serif;stroke-width:0.90px">SeII I</text>
<text x="1690.7" y="1903.5" font-size="44.3" textLength="106.4" lengthAdjust="spacingAndGlyphs" fill="#8d8d8d" stroke="#8d8d8d" style="font-family:'Liberation Serif', serif;stroke-width:0.90px">SeII II</text>
<text x="1261.6" y="1959.1" font-size="42.8" textLength="81.3" lengthAdjust="spacingAndGlyphs" fill="#606060" stroke="#606060" style="font-family:'Liberation Serif', serif;stroke-width:0.90px">term</text>
<text x="1418.1" y="1959.1" font-size="42.8" textLength="80.1" lengthAdjust="spacingAndGlyphs" fill="#606060" stroke="#606060" style="font-family:'Liberation Serif', serif;stroke-width:0.90px">term</text>
<text x="1573.3" y="1959.1" font-size="42.8" textLength="80.8" lengthAdjust="spacingAndGlyphs" fill="#606060" stroke="#606060" style="font-family:'Liberation Serif', serif;stroke-width:0.90px">term</text>
<text x="1728.6" y="1959.1" font-size="42.8" textLength="80.8" lengthAdjust="spacingAndGlyphs" fill="#606060" stroke="#606060" style="font-family:'Liberation Serif', serif;stroke-width:0.90px">term</text>
<text x="1506.6" y="1452.9" font-size="52.9" textLength="29.1" lengthAdjust="spacingAndGlyphs" fill="#959595" stroke="#959595" style="font-family:'Liberation Serif', serif;stroke-width:0.90px">S</text>
<text x="1535.1" y="1460.9" font-size="36.0" textLength="20.8" lengthAdjust="spacingAndGlyphs" fill="#ababab" stroke="#ababab" style="font-family:'Liberation Serif', serif;stroke-width:0.50px">II</text>
</g>
<line x1="271.8" y1="1291.5" x2="276.2" y2="1312" stroke="#9a9a9a" stroke-width="3.6"/>
<text x="465.9" y="51.9" font-size="40.1" textLength="102.1" lengthAdjust="spacingAndGlyphs" fill="#303030" stroke="#303030" style="font-family:'Liberation Sans', sans-serif;stroke-width:0.60px">Grain</text>
<text x="1463.2" y="51.9" font-size="41.0" textLength="102.0" lengthAdjust="spacingAndGlyphs" fill="#303030" stroke="#303030" style="font-family:'Liberation Sans', sans-serif;stroke-width:0.60px">Straw</text>
<rect x="1277.6" y="91.7" width="22.8" height="21.8" fill="#4472c4"/>
<rect x="1595.4" y="91" width="26.9" height="23.2" fill="#ed7d31"/>
<text x="1304.7" y="118.7" font-size="44.0" textLength="87.0" lengthAdjust="spacingAndGlyphs" fill="#6a6a6a" stroke="#6a6a6a" style="font-family:'Liberation Serif', serif;stroke-width:0.50px">Spelt</text>
<text x="1455.6" y="118.7" font-size="44.0" textLength="103.8" lengthAdjust="spacingAndGlyphs" fill="#6a6a6a" stroke="#6a6a6a" style="font-family:'Liberation Serif', serif;stroke-width:0.50px">wheat</text>
<text x="1626.0" y="117.7" font-size="44.0" textLength="161.7" lengthAdjust="spacingAndGlyphs" fill="#6a6a6a" stroke="#6a6a6a" style="font-family:'Liberation Serif', serif;stroke-width:0.50px">Common</text>
<svg x="1024" y="72" width="954" height="200" overflow="hidden"><text x="847.8" y="45.7" font-size="44.0" textLength="103.8" lengthAdjust="spacingAndGlyphs" fill="#6a6a6a" stroke="#6a6a6a" style="font-family:'Liberation Serif', serif;stroke-width:0.50px">wheat</text></svg>
</svg>
</body></html>
